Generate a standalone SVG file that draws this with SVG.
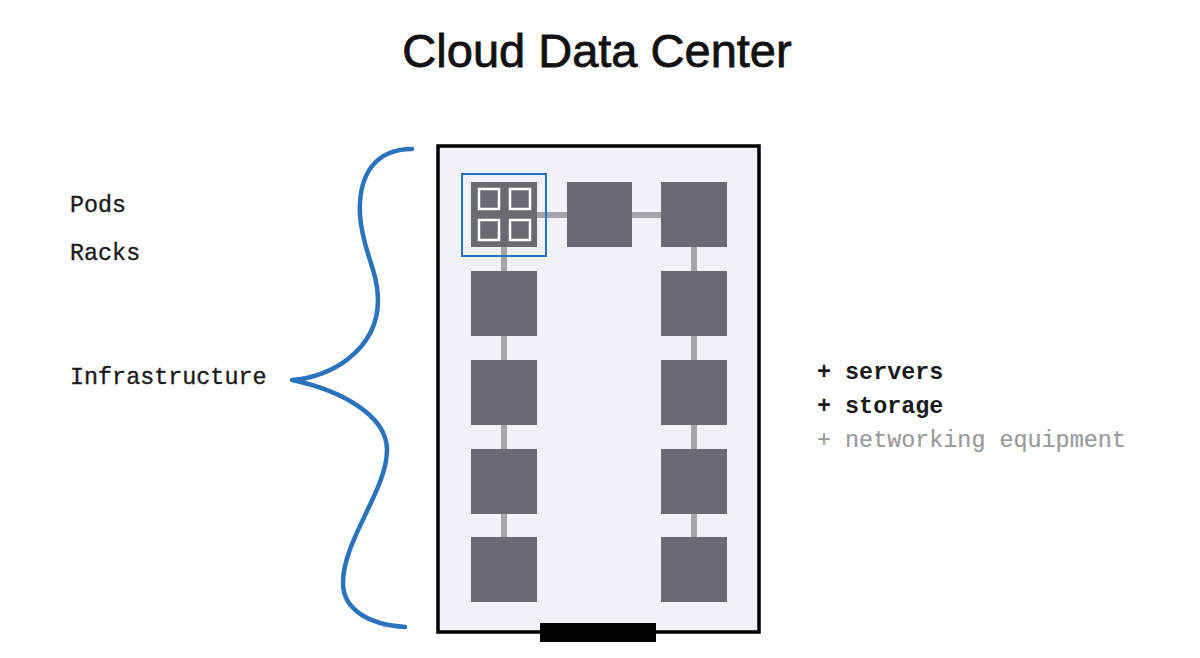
<svg xmlns="http://www.w3.org/2000/svg" width="1200" height="658" viewBox="0 0 1200 658">
<style>
.title{font-family:"Liberation Sans","Noto Sans",sans-serif;font-size:47px;fill:#111;stroke:#111;stroke-width:0.8px;}
.mono{font-family:"Liberation Mono","DejaVu Sans Mono",monospace;font-size:23.4px;fill:#1a1a1a;stroke:#1a1a1a;stroke-width:0.35px;}
.strong{font-weight:bold;stroke-width:0;}
.muted{fill:#9a9a9a;stroke:#9a9a9a;stroke-width:0.2px;}
.rack{fill:#696b72;}
.link{stroke:#a3a5aa;stroke-width:6;fill:none;}
.pod{fill:none;stroke:#ffffff;stroke-width:2.5;}
</style>
<rect width="1200" height="658" fill="#ffffff"/>
<text class="title" x="597" y="67" text-anchor="middle">Cloud Data Center</text>

<g id="labels-left">
<text class="mono" x="70" y="212">Pods</text>
<text class="mono" x="70" y="260">Racks</text>
<text class="mono" x="70" y="384">Infrastructure</text>
</g>

<g id="brace">
<path d="M 412 149 C 375 149, 358 175, 360 215 C 362 250, 378 270, 378 300 C 378 350, 330 378, 292 380 C 340 390, 387 415, 387 450 C 387 490, 343 540, 343 583 C 343 610, 370 625, 405 627" fill="none" stroke="#2a72bc" stroke-width="4.5" stroke-linecap="round" stroke-linejoin="round"/>
</g>

<g id="datacenter">
<rect x="438" y="146" width="321" height="486" fill="#f1f2f8" stroke="#000" stroke-width="3.5"/>
<rect x="540" y="623" width="116" height="19" fill="#000"/>
</g>

<g id="connectors">
<line class="link" x1="537" y1="215" x2="661" y2="215"/>
<line class="link" x1="504" y1="247" x2="504" y2="538"/>
<line class="link" x1="694" y1="247" x2="694" y2="538"/>
</g>

<g id="pod">
<rect class="rack" x="471" y="182" width="66" height="65"/>
<rect class="pod" x="479" y="189" width="20" height="20"/>
<rect class="pod" x="510" y="189" width="20" height="20"/>
<rect class="pod" x="479" y="220" width="20" height="20"/>
<rect class="pod" x="510" y="220" width="20" height="20"/>
<rect x="462" y="174" width="84" height="82" fill="none" stroke="#2a72bc" stroke-width="2"/>
</g>
<g id="rack-top-mid"><rect class="rack" x="567" y="182" width="65" height="65"/></g>
<g id="rack-top-right"><rect class="rack" x="661" y="182" width="66" height="65"/></g>
<g id="rack-l2"><rect class="rack" x="471" y="271" width="66" height="65"/></g>
<g id="rack-l3"><rect class="rack" x="471" y="360" width="66" height="65"/></g>
<g id="rack-l4"><rect class="rack" x="471" y="449" width="66" height="65"/></g>
<g id="rack-l5"><rect class="rack" x="471" y="537" width="66" height="65"/></g>
<g id="rack-r2"><rect class="rack" x="661" y="271" width="66" height="65"/></g>
<g id="rack-r3"><rect class="rack" x="661" y="360" width="66" height="65"/></g>
<g id="rack-r4"><rect class="rack" x="661" y="449" width="66" height="65"/></g>
<g id="rack-r5"><rect class="rack" x="661" y="537" width="66" height="65"/></g>

<g id="labels-right">
<text class="mono strong" x="817" y="379">+ servers</text>
<text class="mono strong" x="817" y="413">+ storage</text>
<text class="mono muted" x="817" y="447">+ networking equipment</text>
</g>
</svg>
